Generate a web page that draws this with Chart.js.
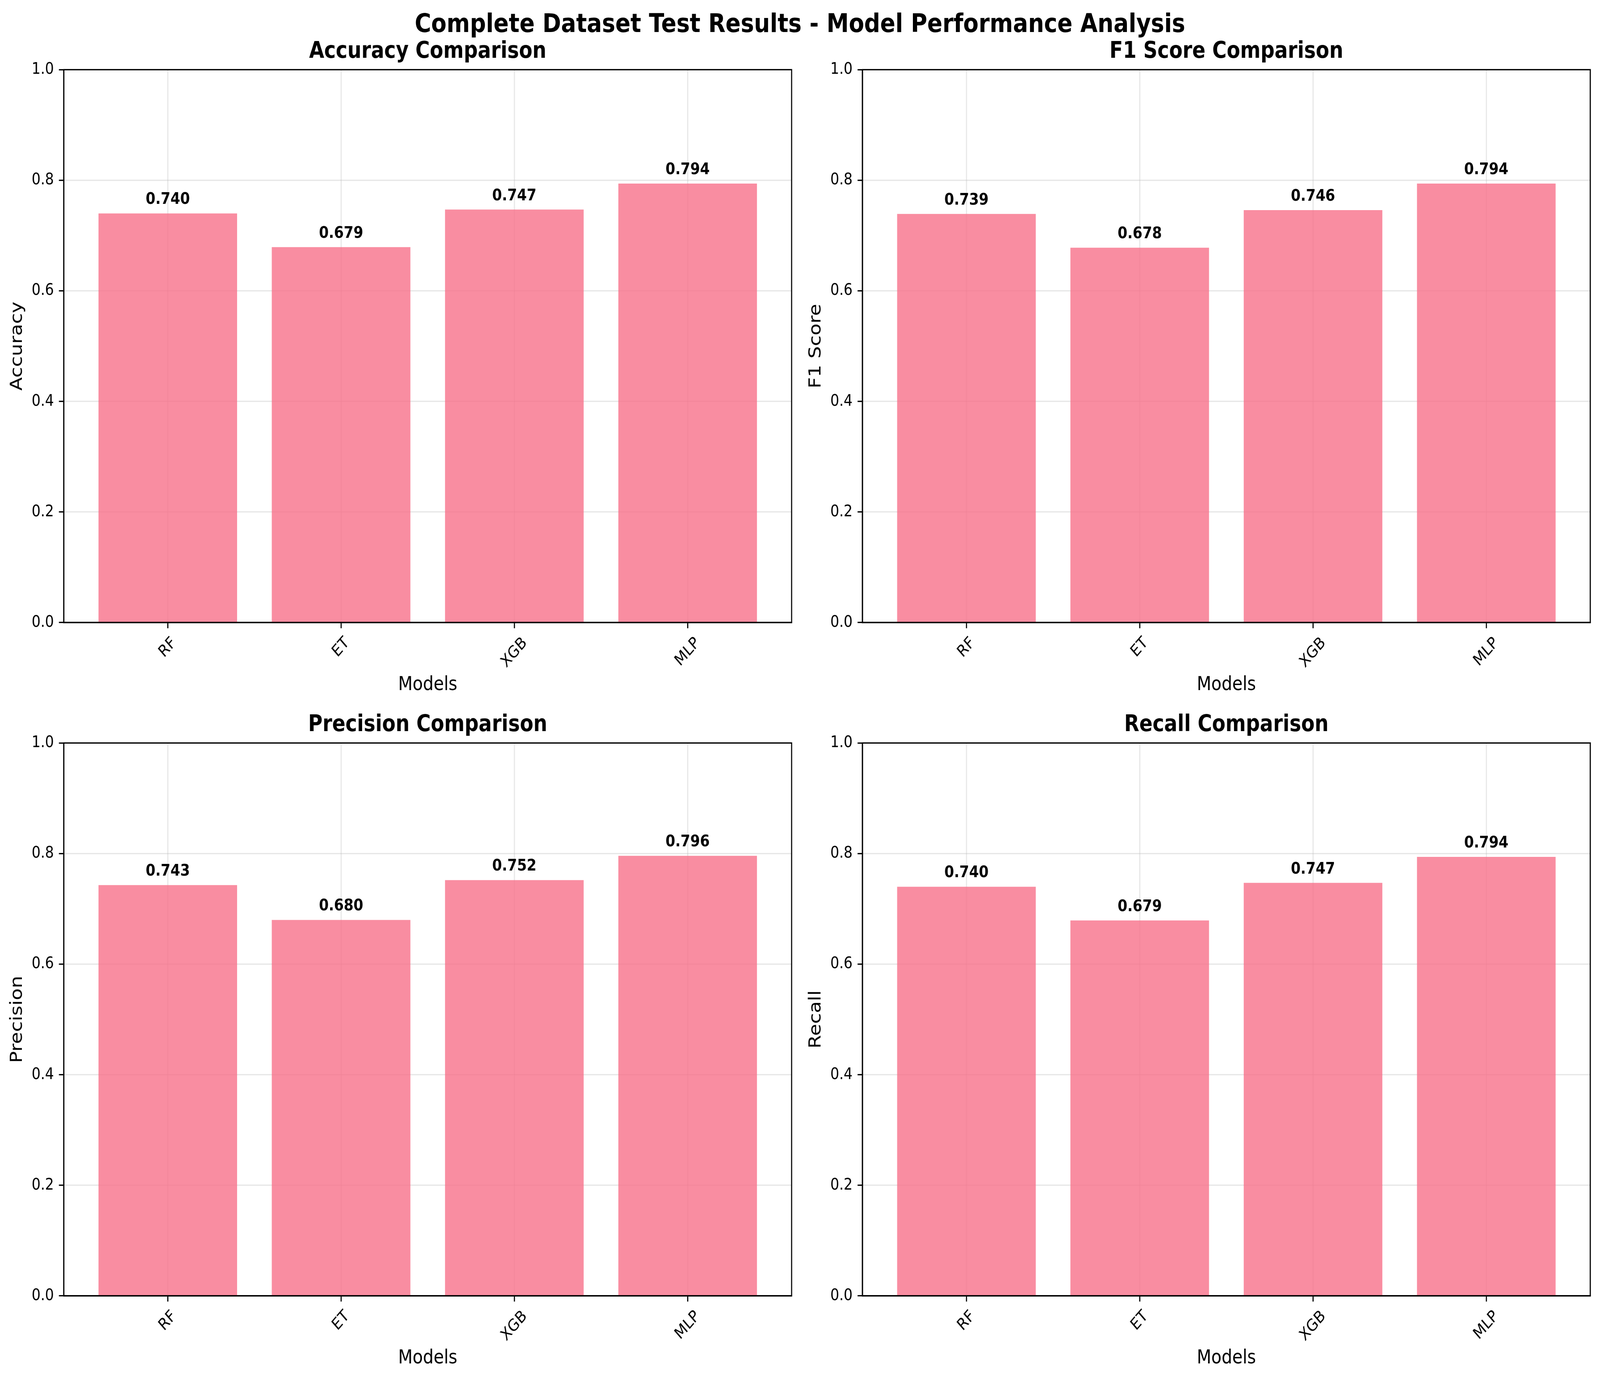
<!DOCTYPE html>
<html><head><meta charset="utf-8">
<script src="https://cdn.jsdelivr.net/npm/chart.js@4.4.1/dist/chart.umd.min.js"></script>
<style>
html,body{margin:0;padding:0;background:#fff;overflow:hidden;}
#root{position:absolute;left:0;top:0;width:4764px;height:3536px;transform-origin:0 0;background:#fff;}
#sup{position:absolute;left:0;top:25.6px;width:4764px;text-align:center;font:bold 66.67px/66.67px "DejaVu Sans";color:#000;white-space:nowrap;}
canvas{position:absolute;}
#c0{left:0;top:60px;}
#c1{left:2378px;top:60px;}
#c2{left:0;top:1784px;}
#c3{left:2378px;top:1784px;}
</style></head><body>
<div id="root">
<div id="sup">Complete Dataset Test Results - Model Performance Analysis</div>
<canvas id="c0" width="2378" height="1724"></canvas>
<canvas id="c1" width="2386" height="1724"></canvas>
<canvas id="c2" width="2378" height="1724"></canvas>
<canvas id="c3" width="2386" height="1724"></canvas>
</div>
<script>
// ---- data ----
const models = ['RF', 'ET', 'XGB', 'MLP'];
const accuracy = [0.740, 0.679, 0.747, 0.794];
const f1Score = [0.739, 0.678, 0.746, 0.794];
const precision = [0.743, 0.680, 0.752, 0.796];
const recall = [0.740, 0.679, 0.747, 0.794];
const metricNames = ['Accuracy', 'F1 Score', 'Precision', 'Recall'];
const yTickValues = [0, 0.2, 0.4, 0.6, 0.8, 1.0];

// ---- fit the 4764x3536 figure to fill the actual viewport ----
const FIG_W = 4764, FIG_H = 3536;
const vw = window.innerWidth || document.documentElement.clientWidth || FIG_W;
const vh = window.innerHeight || document.documentElement.clientHeight || FIG_H;
const SX = vw / FIG_W, SY = vh / FIG_H;
document.getElementById('root').style.transform = 'scale(' + SX + ',' + SY + ')';
const PR = Math.max(1, Math.max(SX, SY) * (window.devicePixelRatio || 1));

// ---- style ----
const LW = 3.33;
const TICK_FS = 41.67;
const LABEL_FS = 50;
const TITLE_FS = 58.33;
const GRID = 'rgba(176,176,176,0.3)';
const BAR = 'rgba(247,112,137,0.8)';
Chart.defaults.font.family = '"DejaVu Sans"';
Chart.defaults.color = '#000';

const decor = {
  id: 'decor',
  afterDraw(chart) {
    const {ctx, chartArea: a} = chart;
    const x = chart.scales.x, y = chart.scales.y;
    ctx.save();
    ctx.strokeStyle = '#000';
    ctx.lineWidth = LW;
    ctx.strokeRect(a.left, a.top, a.right - a.left, a.bottom - a.top);
    // rotated category tick labels, centred on their ticks
    ctx.font = TICK_FS + 'px "DejaVu Sans"';
    ctx.fillStyle = '#000';
    ctx.textAlign = 'center';
    ctx.textBaseline = 'middle';
    x.ticks.forEach(t => {
      const label = models[t.value];
      const px = x.getPixelForValue(t.value);
      const w = ctx.measureText(label).width;
      const cy = a.bottom + 29 + (w + 48) * Math.SQRT1_2 / 2;
      ctx.save();
      ctx.translate(px, cy);
      ctx.rotate(-Math.PI / 4);
      ctx.fillText(label, 0, 0);
      ctx.restore();
    });
    // value labels above bars
    ctx.font = 'bold ' + TICK_FS + 'px "DejaVu Sans"';
    ctx.textBaseline = 'alphabetic';
    chart.data.datasets[0].data.forEach(p => {
      ctx.fillText(p.y.toFixed(3), x.getPixelForValue(p.x), y.getPixelForValue(p.y + 0.01) - 0.236 * TICK_FS);
    });
    ctx.restore();
  }
};

function makeChart(id, values, metric, rightPad) {
  new Chart(document.getElementById(id), {
    type: 'bar',
    data: {
      datasets: [{
        data: models.map((m, i) => ({x: i, y: values[i]})),
        backgroundColor: BAR,
        borderWidth: 0,
        barPercentage: 0.8,
        categoryPercentage: 1.0
      }]
    },
    options: {
      responsive: false,
      animation: false,
      devicePixelRatio: PR,
      layout: {padding: {left: 0, right: rightPad, top: 0, bottom: 0}},
      plugins: {
        legend: {display: false},
        tooltip: {enabled: false},
        title: {
          display: true, text: metric + ' Comparison', fullSize: false, color: '#000',
          font: {size: TITLE_FS, weight: 'bold', lineHeight: 1.2},
          padding: {top: 38.2, bottom: 10.2}
        }
      },
      scales: {
        x: {
          type: 'linear', min: -0.6, max: 3.6, offset: false, z: 1,
          afterBuildTicks: s => { s.ticks = models.map((m, i) => ({value: i})); },
          afterFit: s => { s.height = 190; },
          ticks: {display: false},
          grid: {offset: false, color: GRID, lineWidth: LW, drawTicks: true, tickLength: 14.6, tickColor: '#000', tickWidth: LW},
          border: {display: true, color: '#000', width: LW},
          title: {display: true, text: 'Models', color: '#000', font: {size: LABEL_FS, lineHeight: 1.2}, padding: {top: 0, bottom: 0}}
        },
        y: {
          min: 0, max: 1, z: 1,
          afterBuildTicks: s => { s.ticks = yTickValues.map(v => ({value: v})); },
          afterFit: s => { s.width = 190; },
          ticks: {color: '#000', font: {size: TICK_FS}, padding: 15, callback: v => Number(v).toFixed(1)},
          grid: {color: GRID, lineWidth: LW, drawTicks: true, tickLength: 14.6, tickColor: '#000', tickWidth: LW},
          border: {display: true, color: '#000', width: LW},
          title: {display: true, text: metric, color: '#000', font: {size: LABEL_FS, lineHeight: 1.2}, padding: {top: 22, bottom: 0}}
        }
      }
    },
    plugins: [decor]
  });
}

makeChart('c0', accuracy, metricNames[0], 21);
makeChart('c1', f1Score, metricNames[1], 29);
makeChart('c2', precision, metricNames[2], 21);
makeChart('c3', recall, metricNames[3], 29);
</script>
</body></html>
